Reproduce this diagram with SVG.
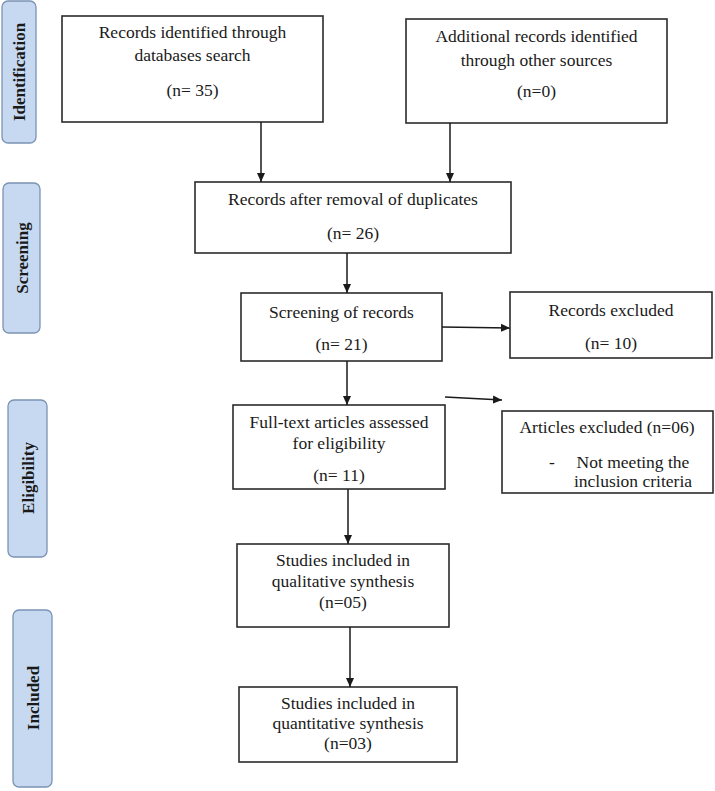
<svg xmlns="http://www.w3.org/2000/svg" width="715" height="791" viewBox="0 0 715 791">
<style>
.box{fill:#fff;stroke:#2b2b2b;stroke-width:1.6}
.phase{fill:#c6d9f1;stroke:#7b93b3;stroke-width:1.3}
.t{font-family:"Liberation Serif","Times New Roman",serif;font-size:17.5px;fill:#1a1a1a;text-anchor:middle}
.p{font-family:"Liberation Serif","Times New Roman",serif;font-size:17px;font-weight:bold;fill:#1a1a1a;text-anchor:middle}
.c{stroke:#1a1a1a;stroke-width:1.5;fill:none;marker-end:url(#ah)}
</style>
<defs>
<marker id="ah" markerUnits="userSpaceOnUse" markerWidth="10" markerHeight="10" refX="9" refY="5" orient="auto">
<path d="M0,1 L9,5 L0,9 Z" fill="#1a1a1a"/>
</marker>
</defs>
<rect width="715" height="791" fill="#fff"/>
<g id="phase-identification"><rect class="phase" x="2" y="1" width="34" height="142" rx="6"/><text class="p" transform="translate(25,72) rotate(-90)">Identification</text></g>
<g id="phase-screening"><rect class="phase" x="3" y="183" width="37" height="150" rx="6"/><text class="p" transform="translate(27.5,258) rotate(-90)">Screening</text></g>
<g id="phase-eligibility"><rect class="phase" x="8" y="400" width="39" height="157" rx="6"/><text class="p" transform="translate(33.5,478) rotate(-90)">Eligibility</text></g>
<g id="phase-included"><rect class="phase" x="13" y="610" width="39" height="177" rx="6"/><text class="p" transform="translate(38.5,698) rotate(-90)">Included</text></g>

<g id="n-db"><rect class="box" x="62" y="16" width="261" height="106"/>
<text class="t" x="192.5" y="38">Records identified through</text>
<text class="t" x="192.5" y="61">databases search</text>
<text class="t" x="192.5" y="96">(n= 35)</text></g>
<g id="n-other"><rect class="box" x="406" y="19" width="261" height="104"/>
<text class="t" x="536.5" y="42">Additional records identified</text>
<text class="t" x="536.5" y="66">through other sources</text>
<text class="t" x="536.5" y="97">(n=0)</text></g>
<g id="n-dup"><rect class="box" x="195" y="182" width="316" height="71"/>
<text class="t" x="353" y="205">Records after removal of duplicates</text>
<text class="t" x="353" y="239">(n= 26)</text></g>
<g id="n-screen"><rect class="box" x="241" y="293" width="201" height="68"/>
<text class="t" x="341.5" y="318">Screening of records</text>
<text class="t" x="341.5" y="350">(n= 21)</text></g>
<g id="n-recexcl"><rect class="box" x="510" y="292" width="202" height="66"/>
<text class="t" x="611" y="316">Records excluded</text>
<text class="t" x="611" y="349">(n= 10)</text></g>
<g id="n-fulltext"><rect class="box" x="233" y="405" width="212" height="84"/>
<text class="t" x="339" y="428">Full-text articles assessed</text>
<text class="t" x="339" y="449">for eligibility</text>
<text class="t" x="339" y="481">(n= 11)</text></g>
<g id="n-artexcl"><rect class="box" x="502" y="411" width="211" height="82"/>
<text class="t" x="607" y="433">Articles excluded (n=06)</text>
<text class="t" x="552" y="468">-</text>
<text class="t" x="633" y="468">Not meeting the</text>
<text class="t" x="633" y="487">inclusion criteria</text></g>
<g id="n-qual"><rect class="box" x="237" y="544" width="212" height="83"/>
<text class="t" x="343" y="566">Studies included in</text>
<text class="t" x="343" y="587">qualitative synthesis</text>
<text class="t" x="343" y="608">(n=05)</text></g>
<g id="n-quant"><rect class="box" x="239" y="687" width="218" height="75"/>
<text class="t" x="348" y="709">Studies included in</text>
<text class="t" x="348" y="729">quantitative synthesis</text>
<text class="t" x="348" y="749">(n=03)</text></g>

<g id="connectors">
<line class="c" x1="261" y1="122" x2="261" y2="182"/>
<line class="c" x1="450" y1="123" x2="450" y2="182"/>
<line class="c" x1="347" y1="253" x2="347" y2="293"/>
<line class="c" x1="442" y1="327" x2="510" y2="328"/>
<line class="c" x1="347" y1="361" x2="347" y2="405"/>
<line class="c" x1="445" y1="397" x2="502" y2="400"/>
<line class="c" x1="348" y1="489" x2="348" y2="544"/>
<line class="c" x1="350" y1="627" x2="350" y2="687"/>
</g>
</svg>
